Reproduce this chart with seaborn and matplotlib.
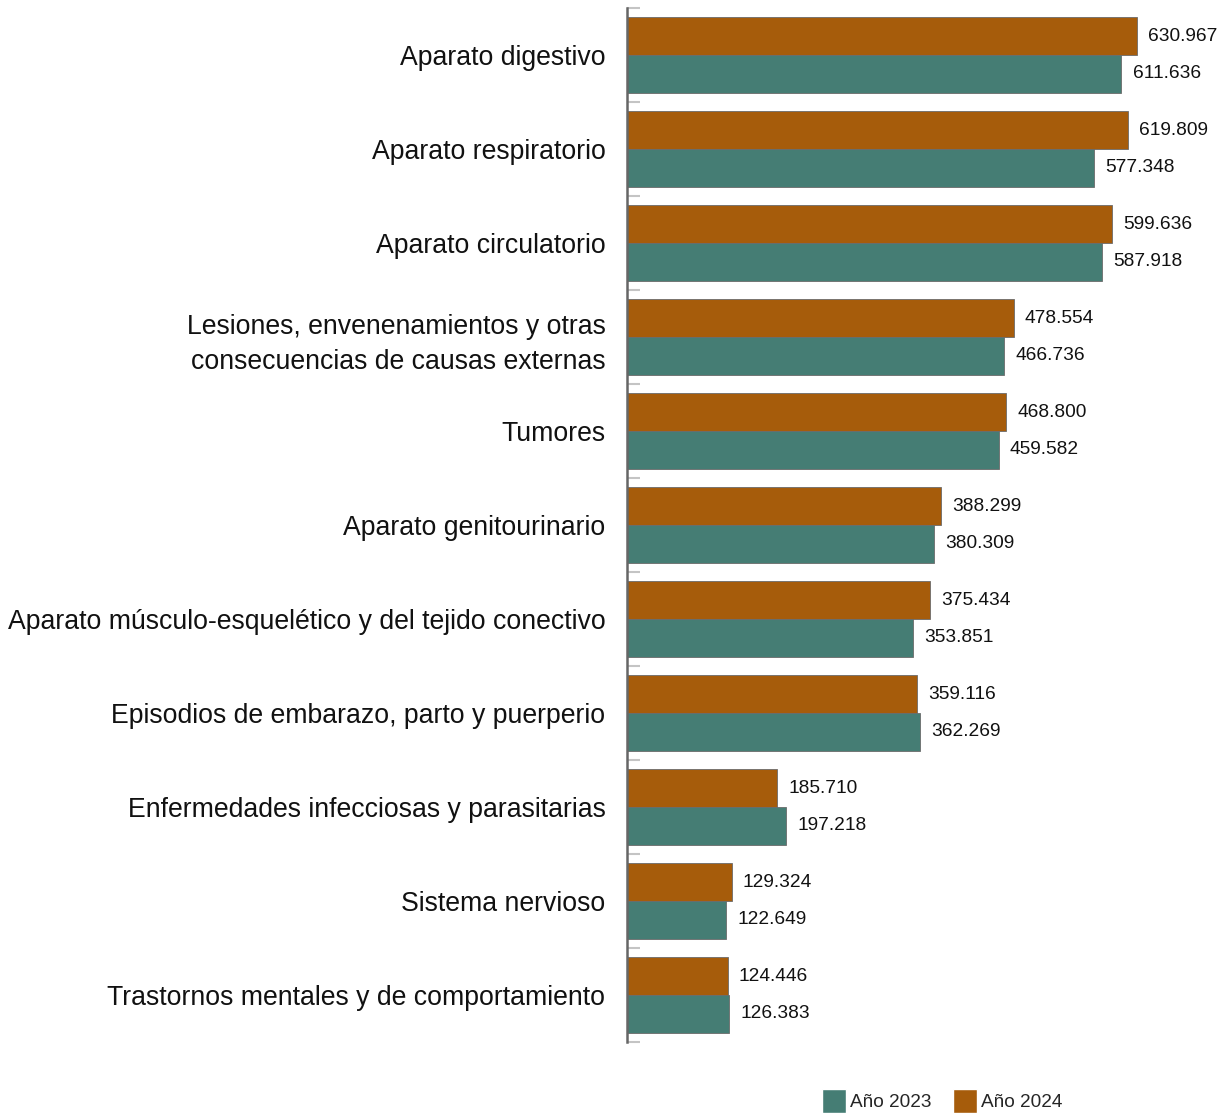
import matplotlib
matplotlib.use("Agg")
import matplotlib.pyplot as plt
import seaborn as sns
import pandas as pd
from matplotlib.patches import Patch

categories = [
    "Aparato digestivo",
    "Aparato respiratorio",
    "Aparato circulatorio",
    "Lesiones, envenenamientos y otras\nconsecuencias de causas externas",
    "Tumores",
    "Aparato genitourinario",
    "Aparato músculo-esquelético y del tejido conectivo",
    "Episodios de embarazo, parto y puerperio",
    "Enfermedades infecciosas y parasitarias",
    "Sistema nervioso",
    "Trastornos mentales y de comportamiento",
]
values_2024 = [630.967, 619.809, 599.636, 478.554, 468.800, 388.299, 375.434, 359.116, 185.710, 129.324, 124.446]
values_2023 = [611.636, 577.348, 587.918, 466.736, 459.582, 380.309, 353.851, 362.269, 197.218, 122.649, 126.383]
series = ["Año 2024", "Año 2023"]
colors = {"Año 2023": "#457D74", "Año 2024": "#A65C0B"}

df = pd.DataFrame({
    "cat": categories * 2,
    "val": values_2024 + values_2023,
    "serie": [series[0]] * len(categories) + [series[1]] * len(categories),
})

sns.set_theme(style="white")
plt.rcParams["font.family"] = ["Liberation Sans", "DejaVu Sans"]

fig = plt.figure(figsize=(12.26, 11.13), dpi=100)
ax = fig.add_axes([627 / 1226, 1 - 1042 / 1113, 1 - 627 / 1226, (1042 - 8) / 1113])

sns.barplot(data=df, y="cat", x="val", hue="serie", hue_order=series,
            palette=colors, order=categories, orient="h", width=0.8, saturation=1,
            edgecolor="#6b6b6b", linewidth=0.6, ax=ax, legend=False)

for cont in ax.containers:
    labels = [f"{v:.3f}" for v in cont.datavalues]
    ax.bar_label(cont, labels=labels, padding=8, fontsize=13.8, color="#111111")

ax.set_xlim(0, 741)
ax.set_ylim(len(categories) - 0.5, -0.5)
ax.set_xlabel("")
ax.set_ylabel("")
ax.set_xticks([])
for s in ["top", "right", "bottom"]:
    ax.spines[s].set_visible(False)
ax.spines["left"].set_color("#666666")
ax.spines["left"].set_linewidth(1.8)

ax.tick_params(axis="y", which="major", left=False, length=0, pad=15.5, labelsize=19.15, labelcolor="#111111")
ax.set_yticks([i - 0.5 for i in range(len(categories) + 1)], minor=True)
ax.tick_params(axis="y", which="minor", left=True, direction="in", length=9, width=1.5, color="#c4c4c4")
for lab in ax.get_yticklabels():
    lab.set_horizontalalignment("right")
    lab.set_multialignment("right")
    lab.set_linespacing(1.45)

handles = [Patch(facecolor=colors["Año 2023"], label="Año 2023"),
           Patch(facecolor=colors["Año 2024"], label="Año 2024")]
fig.legend(handles=handles, loc="center", bbox_to_anchor=(0.7685, 1 - 1101 / 1113),
           ncol=2, frameon=False, fontsize=13.7, handlelength=1.3, handleheight=1.5,
           handletextpad=0.2, columnspacing=1.1, borderaxespad=0)

fig.savefig("out.png", dpi=100)
